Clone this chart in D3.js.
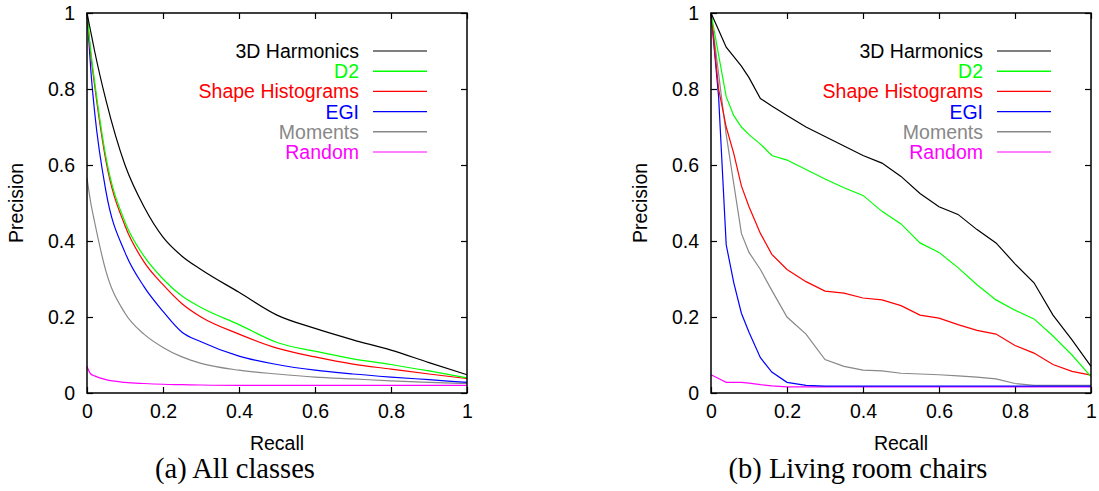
<!DOCTYPE html>
<html>
<head>
<meta charset="utf-8">
<script src="https://cdn.jsdelivr.net/npm/d3@7"></script>
<style>
  body { margin: 0; background: #fff; }
  svg text { font-family: "Liberation Sans", Arial, sans-serif; }
</style>
</head>
<body>
<div class="holder"></div>
<script>
// series names and colours (shared by both panels)
var seriesNames = ["3D Harmonics", "D2", "Shape Histograms", "EGI", "Moments", "Random"];
var seriesColors = ["#000000", "#00ff00", "#ff0000", "#0000ff", "#888888", "#ff00ff"];
var axisTicks = [0, 0.2, 0.4, 0.6, 0.8, 1];

// (a) All classes
var allRecall = [0, 0.01, 0.02, 0.05, 0.1, 0.15, 0.2, 0.25, 0.3, 0.4, 0.5, 0.6, 0.7, 0.8, 0.9, 1];
var allHarmonics = [1, 0.95, 0.9, 0.77, 0.6, 0.49, 0.41, 0.36, 0.325, 0.265, 0.205, 0.17, 0.14, 0.113, 0.08, 0.048];
var allD2 = [1, 0.9, 0.82, 0.62, 0.45, 0.36, 0.3, 0.255, 0.225, 0.18, 0.133, 0.11, 0.09, 0.075, 0.058, 0.04];
var allShape = [1, 0.89, 0.81, 0.61, 0.44, 0.345, 0.285, 0.235, 0.2, 0.155, 0.118, 0.095, 0.076, 0.063, 0.05, 0.038];
var allEGI = [1, 0.85, 0.74, 0.53, 0.37, 0.28, 0.215, 0.16, 0.135, 0.097, 0.075, 0.06, 0.05, 0.042, 0.035, 0.028];
var allMoments = [0.565, 0.5, 0.45, 0.32, 0.21, 0.155, 0.12, 0.095, 0.078, 0.06, 0.05, 0.042, 0.037, 0.032, 0.028, 0.025];
var allRandom = [0.07, 0.05, 0.045, 0.035, 0.028, 0.025, 0.023, 0.022, 0.021, 0.02, 0.02, 0.02, 0.02, 0.02, 0.02, 0.02];

// (b) Living room chairs
var chairRecall = [0, 0.02, 0.04, 0.06, 0.08, 0.1, 0.13, 0.16, 0.2, 0.25, 0.3, 0.35, 0.4, 0.45, 0.5, 0.55, 0.6, 0.65, 0.7, 0.75, 0.8, 0.85, 0.9, 0.95, 1];
var chairHarmonics = [1, 0.955, 0.91, 0.885, 0.86, 0.83, 0.775, 0.755, 0.73, 0.7, 0.675, 0.65, 0.625, 0.605, 0.57, 0.525, 0.49, 0.47, 0.43, 0.395, 0.34, 0.29, 0.205, 0.14, 0.07];
var chairD2 = [1, 0.89, 0.78, 0.73, 0.7, 0.68, 0.655, 0.625, 0.613, 0.588, 0.563, 0.54, 0.52, 0.478, 0.445, 0.395, 0.37, 0.33, 0.285, 0.245, 0.218, 0.195, 0.15, 0.1, 0.043];
var chairShape = [1, 0.8, 0.7, 0.63, 0.545, 0.49, 0.42, 0.365, 0.325, 0.293, 0.268, 0.263, 0.25, 0.245, 0.23, 0.205, 0.197, 0.18, 0.165, 0.155, 0.125, 0.105, 0.075, 0.057, 0.047];
var chairEGI = [1, 0.78, 0.39, 0.29, 0.21, 0.16, 0.093, 0.055, 0.028, 0.02, 0.018, 0.018, 0.018, 0.018, 0.018, 0.018, 0.018, 0.018, 0.018, 0.018, 0.018, 0.018, 0.018, 0.018, 0.018];
var chairMoments = [1, 0.84, 0.68, 0.55, 0.42, 0.37, 0.325, 0.27, 0.2, 0.155, 0.088, 0.07, 0.06, 0.058, 0.052, 0.05, 0.048, 0.045, 0.042, 0.037, 0.025, 0.02, 0.02, 0.02, 0.02];
var chairRandom = [0.048, 0.038, 0.028, 0.028, 0.028, 0.026, 0.022, 0.019, 0.016, 0.016, 0.016, 0.016, 0.016, 0.016, 0.016, 0.016, 0.016, 0.016, 0.016, 0.016, 0.016, 0.016, 0.016, 0.016, 0.016];

var svg = d3.select(".holder").append("svg")
  .attr("width", 1099)
  .attr("height", 491);

function drawPanel(left, recall, values, caption, captionX, smooth) {
  var top = 13, size = 380;
  var x = d3.scaleLinear().domain([0, 1]).range([left, left + size]);
  var y = d3.scaleLinear().domain([0, 1]).range([top + size, top]);
  var fmt = function (d) { return d3.format("")(d); };

  // curves first so the frame sits on top
  var line = d3.line()
    .x(function (d) { return x(d[0]); })
    .y(function (d) { return y(d[1]); })
    .curve(smooth ? d3.curveMonotoneX : d3.curveLinear);

  // draw Random first and 3D Harmonics last
  for (var s = values.length - 1; s >= 0; s--) {
    svg.append("path")
      .datum(recall.map(function (r, i) { return [r, values[s][i]]; }))
      .attr("d", line)
      .style("fill", "none")
      .style("stroke", seriesColors[s])
      .style("stroke-width", 1.2);
  }

  var bottomAxis = svg.append("g")
    .attr("transform", "translate(0," + (top + size) + ")")
    .call(d3.axisBottom(x).tickValues(axisTicks).tickFormat(fmt).tickSize(-6).tickPadding(11));
  var leftAxis = svg.append("g")
    .attr("transform", "translate(" + left + ",0)")
    .call(d3.axisLeft(y).tickValues(axisTicks).tickFormat(fmt).tickSize(-6).tickPadding(12));
  var topAxis = svg.append("g")
    .attr("transform", "translate(0," + top + ")")
    .call(d3.axisTop(x).tickValues(axisTicks).tickFormat("").tickSize(-6));
  var rightAxis = svg.append("g")
    .attr("transform", "translate(" + (left + size) + ",0)")
    .call(d3.axisRight(y).tickValues(axisTicks).tickFormat("").tickSize(-6));

  [bottomAxis, leftAxis, topAxis, rightAxis].forEach(function (a) {
    a.select(".domain").remove();
    a.selectAll(".tick line").style("stroke", "#000").style("stroke-width", 1.2);
    a.selectAll(".tick text")
      .style("font-family", "'Liberation Sans', Arial, sans-serif")
      .style("font-size", "19.5px")
      .style("fill", "#000");
  });

  svg.append("rect")
    .attr("x", left).attr("y", top)
    .attr("width", size).attr("height", size)
    .style("fill", "none")
    .style("stroke", "#000")
    .style("stroke-width", 1.5);

  // axis titles
  svg.append("text")
    .attr("x", left + size / 2).attr("y", 450)
    .attr("text-anchor", "middle")
    .style("font-size", "19.5px")
    .text("Recall");
  svg.append("text")
    .attr("transform", "translate(" + (left - 64) + "," + (top + size / 2) + ") rotate(-90)")
    .attr("text-anchor", "middle")
    .style("font-size", "19.5px")
    .text("Precision");

  // legend
  var legend = svg.append("g");
  seriesNames.forEach(function (name, i) {
    var ly = 51 + i * 20.2;
    legend.append("text")
      .attr("x", left + size - 108).attr("y", ly + 7)
      .attr("text-anchor", "end")
      .style("font-size", "19.5px")
      .style("fill", seriesColors[i])
      .text(name);
    legend.append("line")
      .attr("x1", left + size - 94).attr("x2", left + size - 40)
      .attr("y1", ly).attr("y2", ly)
      .style("stroke", seriesColors[i])
      .style("stroke-width", i === 1 || i === 4 ? 1.6 : 1.2);
  });

  // caption
  svg.append("text")
    .attr("x", captionX).attr("y", 478)
    .attr("text-anchor", "middle")
    .style("font-family", "'Liberation Serif', 'Times New Roman', serif")
    .style("font-size", "28.5px")
    .text(caption);
}

drawPanel(87, allRecall, [allHarmonics, allD2, allShape, allEGI, allMoments, allRandom], "(a) All classes", 235, true);
drawPanel(711, chairRecall, [chairHarmonics, chairD2, chairShape, chairEGI, chairMoments, chairRandom], "(b) Living room chairs", 858, false);
</script>
</body>
</html>
